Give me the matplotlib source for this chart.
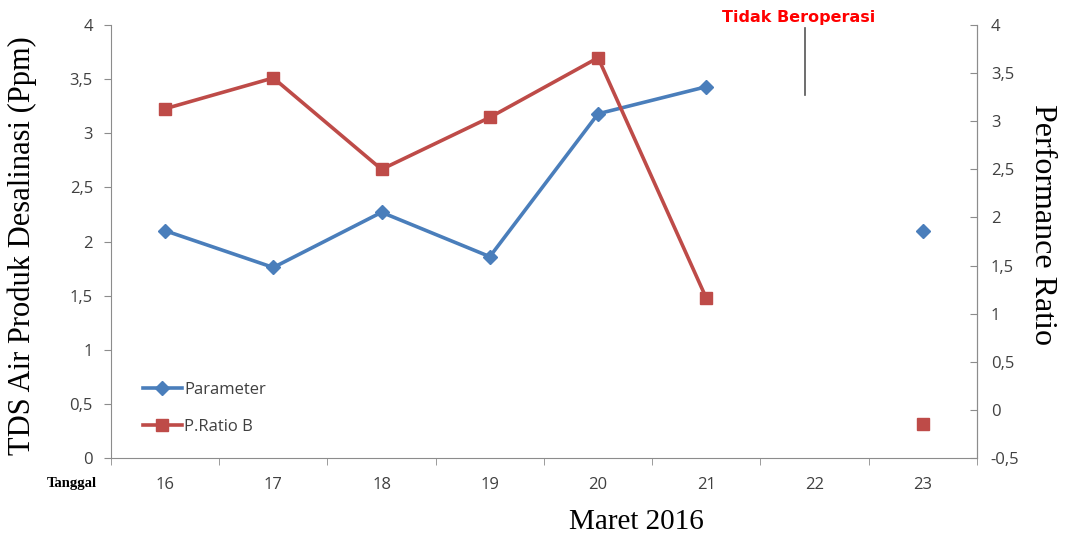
import numpy as np
import matplotlib
matplotlib.use("Agg")
import matplotlib.pyplot as plt
from matplotlib.ticker import FuncFormatter, MultipleLocator

# data (tanggal 22 tidak beroperasi)
tanggal = ['16', '17', '18', '19', '20', '21', '22', '23']
parameter = [2.1, 1.76, 2.27, 1.86, 3.18, 3.43, np.nan, 2.1]
pratio_b = [3.13, 3.45, 2.5, 3.04, 3.66, 1.16, np.nan, -0.15]

biru = '#4A7EBB'
merah = '#BE4B48'
abu = '#8C8C8C'
teks = '#404040'

fig = plt.figure(figsize=(10.71, 5.38), dpi=100)
ax = fig.add_axes([0.1036, 0.1487, 0.8086, 0.8048])
ax2 = ax.twinx()

x = np.arange(len(tanggal))
l1, = ax.plot(x, parameter, color=biru, lw=2.6, marker='D', ms=7.5, label='Parameter')
l2, = ax2.plot(x, pratio_b, color=merah, lw=2.6, marker='s', ms=9, label='P.Ratio B')

ax.set_xlim(-0.5, len(tanggal) - 0.5)
ax.set_ylim(0, 4)
ax2.set_ylim(-0.5, 4)
ax.yaxis.set_major_locator(MultipleLocator(0.5))
ax2.yaxis.set_major_locator(MultipleLocator(0.5))
koma = FuncFormatter(lambda v, p: ('%g' % v).replace('.', ','))
ax.yaxis.set_major_formatter(koma)
ax2.yaxis.set_major_formatter(koma)

ax.set_xticks(x)
ax.set_xticklabels(tanggal)
ax.set_xticks(np.arange(-0.5, len(tanggal)), minor=True)
ax.tick_params(axis='x', which='major', length=0, pad=14)
ax.tick_params(axis='x', which='minor', length=5, color=abu, direction='out')
ax.tick_params(axis='y', length=5, color=abu, pad=8)
ax2.tick_params(axis='y', length=5, color=abu, direction='in', pad=10)

for a in (ax, ax2):
    a.tick_params(labelsize=12, labelcolor=teks)
    for lab in a.get_xticklabels() + a.get_yticklabels():
        lab.set_fontfamily('Open Sans')
    for s in a.spines.values():
        s.set_color(abu)
    a.spines['top'].set_visible(False)
ax2.spines['left'].set_visible(False)
ax2.spines['bottom'].set_visible(False)

ax.set_ylabel('TDS Air Produk Desalinasi (Ppm)', family='Liberation Serif', fontsize=22)
ax.yaxis.set_label_coords(-0.085, 0.49)
ax2.set_ylabel('Performance Ratio', family='Liberation Serif', fontsize=23, rotation=-90)
ax2.yaxis.set_label_coords(1.092, 0.54)
fig.text(0.594, 0.03, 'Maret 2016', family='Liberation Serif', fontsize=21, ha='center', va='center')
fig.text(0.067, 0.102, 'Tanggal', family='Liberation Serif', fontsize=10.5, fontweight='bold', ha='center', va='center')

# keterangan tidak beroperasi
ax.text(5.85, 4.07, 'Tidak Beroperasi', color='red', fontsize=11.5, fontweight='bold',
        family='DejaVu Sans', ha='center', va='center', clip_on=False)
ax.plot([5.91, 5.91], [3.35, 3.97], color='#555555', lw=1.2)

ax.legend(handles=[l1, l2], loc='lower left', bbox_to_anchor=(0.02, 0.019), frameon=False,
          prop={'family': 'Open Sans', 'size': 12}, handlelength=2.3, handletextpad=0.15,
          labelspacing=1.25, labelcolor=teks)

fig.savefig('out.png', dpi=100)
